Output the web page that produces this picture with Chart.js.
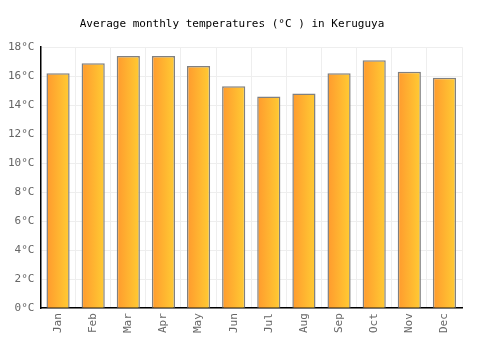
<!DOCTYPE html>
<html>
<head>
<meta charset="utf-8">
<script src="https://cdn.jsdelivr.net/npm/chart.js@4/dist/chart.umd.min.js"></script>
<style>
  html, body { margin: 0; padding: 0; background: #fff; }
  #wrap { width: 500px; height: 350px; }
</style>
</head>
<body>
<div id="wrap"><canvas id="chart"></canvas></div>
<script>
var months = ["Jan","Feb","Mar","Apr","May","Jun","Jul","Aug","Sep","Oct","Nov","Dec"];
var temps = [16.2, 16.9, 17.4, 17.4, 16.7, 15.3, 14.6, 14.8, 16.2, 17.1, 16.3, 15.9];
var barPct = 0.66;

function barFill(ctx)
{
  var chart = ctx.chart;
  var x = chart.scales && chart.scales.x;
  if(!x || ctx.dataIndex === undefined) return "#ffb030";
  var cx = x.getPixelForValue(ctx.dataIndex);
  var half = x.width / months.length * barPct / 2;
  if(!isFinite(cx) || !isFinite(half) || half <= 0) return "#ffb030";
  var g = chart.ctx.createLinearGradient(cx - half, 0, cx + half, 0);
  g.addColorStop(0, "#ff9a2e");
  g.addColorStop(1, "#ffcc33");
  return g;
}

new Chart(document.getElementById("chart"), {
  type: "bar",
  data: {
    labels: months,
    datasets: [{
      data: temps,
      backgroundColor: barFill,
      borderColor: "#808080",
      borderWidth: 1.5,
      barPercentage: barPct,
      categoryPercentage: 1
    }]
  },
  options: {
    responsive: true,
    maintainAspectRatio: false,
    animation: false,
    layout: { padding: { left: 2, right: 38, top: 0, bottom: 12 } },
    plugins: {
      legend: { display: false },
      tooltip: { enabled: false },
      title: {
        display: true,
        text: "Average monthly temperatures (°C ) in Keruguya",
        color: "#000",
        font: { family: "DejaVu Sans Mono", size: 11, weight: "normal" },
        padding: { top: 18, bottom: 16 }
      }
    },
    scales: {
      x: {
        grid: { color: "#eeeeee", offset: true, drawTicks: false },
        border: { color: "#000", width: 1.5 },
        ticks: {
          color: "#666",
          padding: 5,
          font: { family: "DejaVu Sans Mono", size: 11 },
          maxRotation: 90, minRotation: 90
        }
      },
      y: {
        min: 0, max: 18,
        grid: { color: "#eeeeee", drawTicks: false },
        border: { color: "#000", width: 1.5 },
        ticks: {
          stepSize: 2,
          color: "#666",
          padding: 6,
          font: { family: "DejaVu Sans Mono", size: 11 },
          callback: function(v) { return v + "°C"; }
        }
      }
    }
  }
});
</script>
</body>
</html>
